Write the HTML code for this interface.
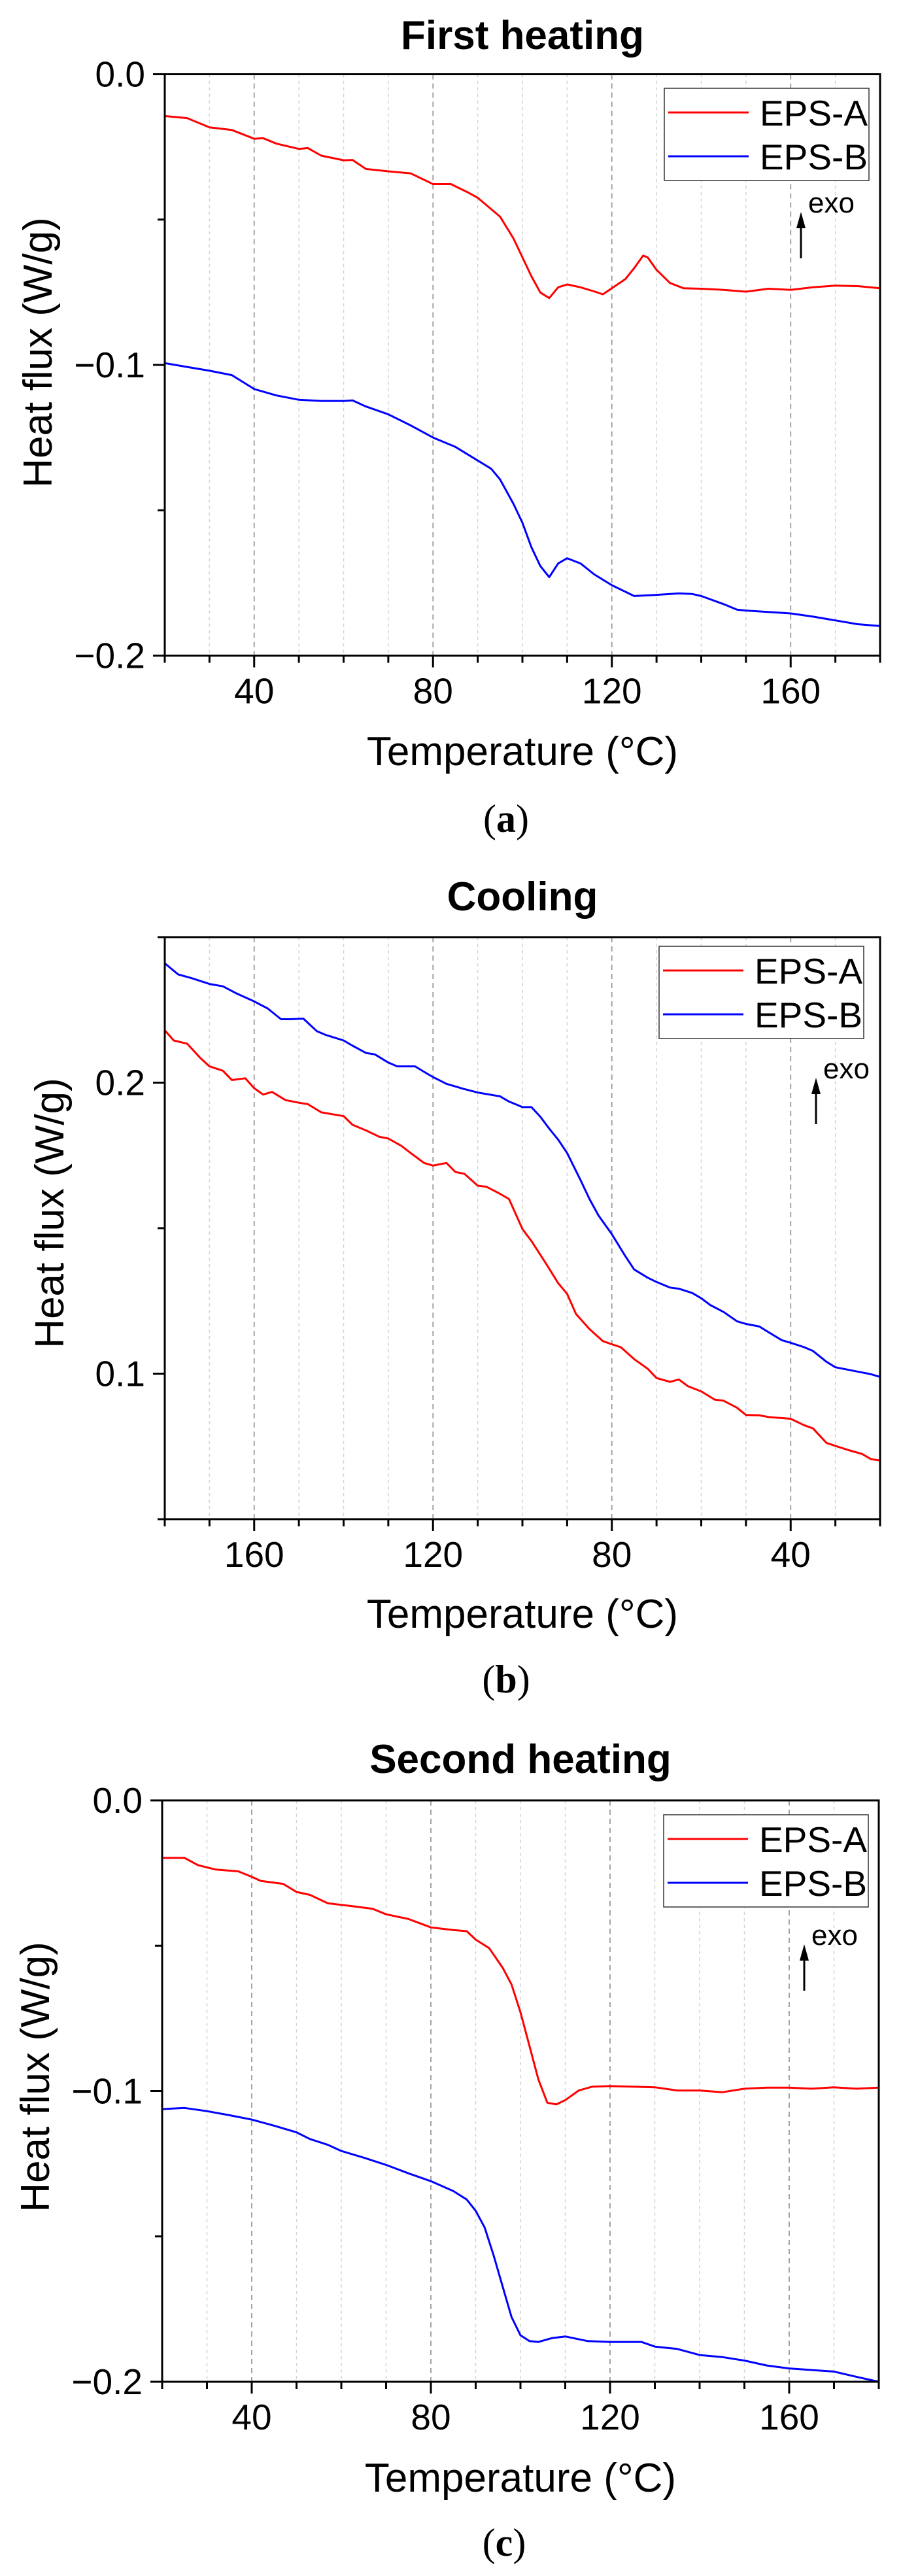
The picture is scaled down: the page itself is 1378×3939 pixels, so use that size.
<!DOCTYPE html>
<html><head><meta charset="utf-8"><style>
html,body{margin:0;padding:0;background:#fff;}
svg{display:block;}
text{font-family:"Liberation Sans",Arial,sans-serif;}
</style></head><body>
<svg id="fig" width="1378" height="3939" viewBox="0 0 1378 3939" xmlns="http://www.w3.org/2000/svg"></svg>
<script>
// ---- Panel (a) First heating ----
const tempA = [20,25,30,35,40,42,45,50,52,55,60,62,65,70,75,80,84,88,90,95,98,100,102,104,106,108,110,113,116,118,120,123,125,127,128,130,133,136,140,145,150,155,160,165,170,175,180];
const redA = [-0.0144,-0.0151,-0.0183,-0.0192,-0.0222,-0.0220,-0.0239,-0.0257,-0.0254,-0.0280,-0.0296,-0.0295,-0.0326,-0.0334,-0.0341,-0.0378,-0.0378,-0.0408,-0.0425,-0.0490,-0.0565,-0.0630,-0.0695,-0.0751,-0.0770,-0.0733,-0.0723,-0.0733,-0.0747,-0.0757,-0.0736,-0.0705,-0.0667,-0.0624,-0.0630,-0.0673,-0.0718,-0.0736,-0.0738,-0.0742,-0.0748,-0.0738,-0.0742,-0.0733,-0.0727,-0.0729,-0.0736];
const tempA2 = [20,25,30,35,40,45,50,55,60,62,65,70,75,80,85,90,93,95,98,100,102,104,106,108,110,113,116,120,125,130,135,138,140,145,148,150,160,165,170,175,180];
const blueA = [-0.0994,-0.1007,-0.1020,-0.1035,-0.1083,-0.1105,-0.1120,-0.1124,-0.1124,-0.1122,-0.1143,-0.1170,-0.1208,-0.1250,-0.1282,-0.1329,-0.1357,-0.1394,-0.1478,-0.1543,-0.1627,-0.1692,-0.1730,-0.1683,-0.1665,-0.1683,-0.1720,-0.1758,-0.1795,-0.1791,-0.1786,-0.1788,-0.1795,-0.1823,-0.1842,-0.1845,-0.1855,-0.1866,-0.1879,-0.1892,-0.1898];
// ---- Panel (b) Cooling ----
const tempB = [180,178,175,172,170,167,165,162,160,158,156,153,150,148,145,140,138,135,132,130,127,125,122,120,117,115,113,110,108,105,103,100,98,95,92,90,88,85,82,80,78,75,72,70,67,65,63,60,57,55,52,50,47,45,40,37,35,32,30,27,24,22,20];
const redB = [0.2180,0.2145,0.2134,0.2084,0.2056,0.2041,0.2009,0.2015,0.1981,0.1959,0.1968,0.1940,0.1931,0.1926,0.1898,0.1885,0.1855,0.1836,0.1814,0.1808,0.1782,0.1758,0.1724,0.1715,0.1724,0.1693,0.1687,0.1646,0.1642,0.1618,0.1600,0.1497,0.1456,0.1385,0.1311,0.1274,0.1205,0.1153,0.1112,0.1101,0.1091,0.1050,0.1017,0.0985,0.0972,0.0980,0.0957,0.0939,0.0911,0.0907,0.0883,0.0858,0.0857,0.0851,0.0845,0.0823,0.0812,0.0762,0.0752,0.0737,0.0724,0.0706,0.0702];
const tempB2 = [180,177,174,170,167,164,160,157,154,152,149,146,144,140,138,135,133,130,128,124,122,120,117,113,110,105,103,100,98,96,94,92,90,87,85,83,80,77,75,72,70,67,65,62,60,58,55,52,50,47,45,42,40,37,35,32,30,27,24,22,20];
const blueB = [0.2410,0.2372,0.2359,0.2339,0.2331,0.2307,0.2279,0.2255,0.2218,0.2218,0.2220,0.2177,0.2164,0.2145,0.2127,0.2102,0.2097,0.2069,0.2056,0.2056,0.2037,0.2019,0.1996,0.1978,0.1966,0.1953,0.1935,0.1916,0.1916,0.1883,0.1842,0.1804,0.1758,0.1665,0.1600,0.1544,0.1479,0.1404,0.1358,0.1330,0.1315,0.1296,0.1292,0.1277,0.1259,0.1236,0.1212,0.1180,0.1171,0.1162,0.1143,0.1115,0.1106,0.1091,0.1078,0.1041,0.1022,0.1013,0.1004,0.0998,0.0989];
// ---- Panel (c) Second heating ----
const tempC = [20,25,28,32,37,40,42,47,50,53,57,62,67,70,75,80,85,88,90,93,96,98,100,102,104,106,108,110,113,116,120,125,130,135,140,145,150,155,160,165,170,175,180];
const redC = [-0.0198,-0.0198,-0.0223,-0.0238,-0.0244,-0.0263,-0.0277,-0.0287,-0.0315,-0.0325,-0.0354,-0.0363,-0.0373,-0.0392,-0.0408,-0.0437,-0.0446,-0.0450,-0.0479,-0.0508,-0.0575,-0.0633,-0.0729,-0.0844,-0.0960,-0.1040,-0.1046,-0.1031,-0.0998,-0.0985,-0.0983,-0.0985,-0.0987,-0.0998,-0.0998,-0.1004,-0.0992,-0.0988,-0.0988,-0.0992,-0.0987,-0.0992,-0.0988];
const tempC2 = [20,25,30,35,40,45,50,53,57,60,65,70,75,80,85,88,90,92,94,96,98,100,102,104,107,110,115,120,127,130,135,140,145,150,155,160,170,175,180];
const blueC = [-0.1062,-0.1058,-0.1069,-0.1083,-0.1098,-0.1119,-0.1142,-0.1165,-0.1185,-0.1206,-0.1229,-0.1254,-0.1283,-0.1310,-0.1344,-0.1373,-0.1412,-0.1469,-0.1565,-0.1671,-0.1777,-0.1840,-0.1860,-0.1863,-0.1850,-0.1844,-0.1860,-0.1863,-0.1863,-0.1879,-0.1887,-0.1908,-0.1915,-0.1927,-0.1944,-0.1954,-0.1965,-0.1983,-0.2000];
const xMajorTicks = [40,80,120,160];
const xMinorTicks = [20,30,50,60,70,90,100,110,130,140,150,170,180];
const yTicksAC = [0.0,-0.1,-0.2];
const yTickLabelsAC = ["0.0","\u22120.1","\u22120.2"];
const yMinorAC = [-0.05,-0.15];
const yTicksB = [0.1,0.2];
const yTickLabelsB = ["0.1","0.2"];
const yMinorB = [0.05,0.15,0.25];

const NS = "http://www.w3.org/2000/svg";
const fig = document.getElementById('fig');
function mk(tag, attrs, parent){const e=document.createElementNS(NS,tag);for(const k in attrs)e.setAttribute(k,attrs[k]);(parent||fig).appendChild(e);return e;}

function panel(p){
  const g = mk('g',{});
  
  
  const sx = t => p.L + (t - p.x0)/(p.x1 - p.x0)*(p.R - p.L);
  const sy = v => p.T + (p.y1 - v)/(p.y1 - p.y0)*(p.B - p.T);
  xMinorTicks.forEach(t=>{ if(t===20||t===180) return;
    const l=mk('line',{x1:sx(t),x2:sx(t),y1:p.T,y2:p.B,stroke:'#d4d4d4','stroke-width':1.5,'stroke-dasharray':'5,5'},g);
    
    
  });
  xMajorTicks.forEach(t=>{
    const l=mk('line',{x1:sx(t),x2:sx(t),y1:p.T,y2:p.B,stroke:'#9a9a9a','stroke-width':1.8,'stroke-dasharray':'8,6'},g);
    
    
  });
  p.series.forEach(s=>{
    const d = s.t.map((t,i)=>(i?'L':'M')+sx(t).toFixed(1)+','+sy(s.v[i]).toFixed(1)).join(' ');
    const path=mk('path',{d:d,fill:'none',stroke:s.color,'stroke-width':3,'stroke-linejoin':'round'},g);
    
    
  });
  const fr=mk('rect',{x:p.L,y:p.T,width:p.R-p.L,height:p.B-p.T,fill:'none',stroke:'#000','stroke-width':3},g);
  
  
  xMajorTicks.forEach(t=>{
    mk('line',{x1:sx(t),x2:sx(t),y1:p.B,y2:p.B+18,stroke:'#000','stroke-width':3},g);
    const tx=mk('text',{x:sx(t),y:p.B+73,'font-size':55,'text-anchor':'middle'},g);
    tx.textContent=t;
    
    
  });
  xMinorTicks.forEach(t=>{ mk('line',{x1:sx(t),x2:sx(t),y1:p.B,y2:p.B+11,stroke:'#000','stroke-width':3},g); });
  p.yt.forEach((v,i)=>{
    mk('line',{x1:p.L-18,x2:p.L,y1:sy(v),y2:sy(v),stroke:'#000','stroke-width':3},g);
    const tx=mk('text',{x:p.L-30,y:sy(v)+19,'font-size':55,'text-anchor':'end'},g);
    tx.textContent=p.ytl[i];
    
    
  });
  p.ym.forEach(v=>{ mk('line',{x1:p.L-11,x2:p.L,y1:sy(v),y2:sy(v),stroke:'#000','stroke-width':3},g); });
  const ti=mk('text',{x:(p.L+p.R)/2,y:p.titleY,'font-size':62,'font-weight':'bold','text-anchor':'middle'},g);
  ti.textContent=p.title;
  
  
  const xt=mk('text',{x:(p.L+p.R)/2,y:p.xtY,'font-size':62,'text-anchor':'middle'},g);
  xt.textContent='Temperature (°C)';
  
  
  const yt=mk('text',{x:0,y:0,'font-size':62,'text-anchor':'middle',transform:`translate(${p.ylX+22},${p.ylY}) rotate(-90)`},g);
  yt.textContent='Heat flux (W/g)';
  
  
  const cap=mk('text',{x:(p.L+p.R)/2-25,y:p.capY,'font-size':60,'text-anchor':'middle',style:'font-family:"Liberation Serif",serif'},g);
  cap.innerHTML='(<tspan font-weight="bold">'+p.cap+'</tspan>)';
  
  
  const lg=mk('g',{},g);
  
  
  mk('rect',{x:p.lx,y:p.ly,width:313,height:141,fill:'#fff',stroke:'#333','stroke-width':1.5},lg);
  p.series.forEach((s,i)=>{
    const yy=p.ly+37+i*67;
    mk('line',{x1:p.lx+6,x2:p.lx+129,y1:yy,y2:yy,stroke:s.color,'stroke-width':3},lg);
    const t=mk('text',{x:p.lx+146,y:yy+20,'font-size':55},lg);
    t.textContent=s.label;
    
    
  });
  const ar=mk('g',{},g);
  
  
  mk('line',{x1:p.ax,x2:p.ax,y1:p.ay+20,y2:p.ay+71,stroke:'#000','stroke-width':3},ar);
  mk('polygon',{points:`${p.ax-7},${p.ay+25} ${p.ax+7},${p.ay+25} ${p.ax},${p.ay}`,fill:'#000'},ar);
  const ex=mk('text',{x:p.ax+11,y:p.ay+1,'font-size':44},ar);
  ex.textContent='exo';
}

panel({name:'panel-a-first-heating',title:'First heating',cap:'a',L:252,R:1346,T:113.5,B:1002.5,x0:20,x1:180,y0:-0.2,y1:0.0,
  yt:yTicksAC,ytl:yTickLabelsAC,ym:yMinorAC,titleY:75,xtY:1170,ylX:57,ylY:539,capY:1272,lx:1016,ly:135,ax:1225,ay:324,
  series:[{name:'eps-a-line',label:'EPS-A',color:'#ff0000',t:tempA,v:redA},{name:'eps-b-line',label:'EPS-B',color:'#0000ff',t:tempA2,v:blueA}]});
panel({name:'panel-b-cooling',title:'Cooling',cap:'b',L:252,R:1346,T:1433,B:2323,x0:180,x1:20,y0:0.05,y1:0.25,
  yt:yTicksB,ytl:yTickLabelsB,ym:yMinorB,titleY:1392,xtY:2489,ylX:75,ylY:1855,capY:2588,lx:1008,ly:1447,ax:1248,ay:1648,
  series:[{name:'eps-a-line',label:'EPS-A',color:'#ff0000',t:tempB,v:redB},{name:'eps-b-line',label:'EPS-B',color:'#0000ff',t:tempB2,v:blueB}]});
panel({name:'panel-c-second-heating',title:'Second heating',cap:'c',L:248,R:1344,T:2753,B:3642,x0:20,x1:180,y0:-0.2,y1:0.0,
  yt:yTicksAC,ytl:yTickLabelsAC,ym:yMinorAC,titleY:2711,xtY:3810,ylX:53,ylY:3176,capY:3908,lx:1015,ly:2775,ax:1230,ay:2973,
  series:[{name:'eps-a-line',label:'EPS-A',color:'#ff0000',t:tempC,v:redC},{name:'eps-b-line',label:'EPS-B',color:'#0000ff',t:tempC2,v:blueC}]});
</script>
</body></html>
